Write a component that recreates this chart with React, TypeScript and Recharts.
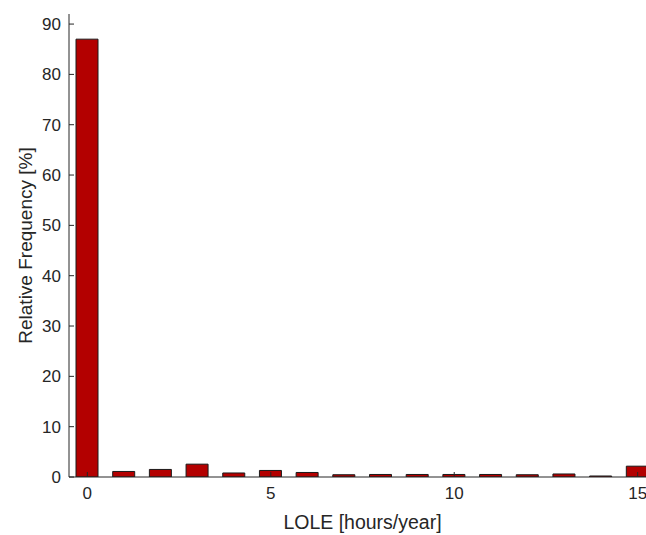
import React from 'react';
import { BarChart, Bar, XAxis, YAxis, Label } from 'recharts';

// LOLE bins (hours/year) and relative frequency (%)
const loleHours = [0, 1, 2, 3, 4, 5, 6, 7, 8, 9, 10, 11, 12, 13, 14, 15];
const relFreq = [87, 1.1, 1.5, 2.55, 0.8, 1.3, 0.9, 0.45, 0.5, 0.5, 0.5, 0.5, 0.45, 0.6, 0.2, 2.15];
const xTicks = [0, 5, 10, 15];
const yTicks = [0, 10, 20, 30, 40, 50, 60, 70, 80, 90];

const AXIS_COLOR = '#262626';
const BAR_COLOR = '#b30000';

const data = loleHours.map((h, i) => ({ lole: h, freq: relFreq[i] }));

const App: React.FC = () => {
    return (
        <div style={{ position: 'absolute', left: 0, top: 0, fontFamily: '"Liberation Sans", Arial, sans-serif' }}>
            <style>{'html, body { overflow: hidden; }'}</style>
            <BarChart
                width={700}
                height={535}
                data={data}
                margin={{ top: 14, right: 44, bottom: 0, left: 0 }}
                barCategoryGap={0}
            >
                <XAxis
                    dataKey="lole"
                    type="number"
                    domain={[-0.5, 15.5]}
                    allowDataOverflow
                    ticks={xTicks}
                    height={58}
                    stroke={AXIS_COLOR}
                    tickSize={-5}
                    tickMargin={15}
                    tick={{ fill: AXIS_COLOR, fontSize: 17 }}
                >
                    <Label value="LOLE [hours/year]" position="insideBottom" offset={6} fill={AXIS_COLOR} fontSize={19.5} />
                </XAxis>
                <XAxis
                    xAxisId="top"
                    orientation="top"
                    type="number"
                    domain={[-0.5, 15.5]}
                    allowDataOverflow
                    ticks={xTicks}
                    height={0}
                    stroke={AXIS_COLOR}
                    tickSize={-5}
                    tick={false}
                />
                <YAxis
                    type="number"
                    domain={[0, 92]}
                    allowDataOverflow
                    ticks={yTicks}
                    width={69}
                    stroke={AXIS_COLOR}
                    tickSize={-5}
                    tickMargin={13}
                    tick={{ fill: AXIS_COLOR, fontSize: 17 }}
                    label={{
                        value: 'Relative Frequency [%]',
                        angle: -90,
                        position: 'insideLeft',
                        offset: 25,
                        fill: AXIS_COLOR,
                        fontSize: 19,
                        style: { textAnchor: 'middle' },
                    }}
                />
                <Bar dataKey="freq" fill={BAR_COLOR} stroke="#1a1a1a" strokeWidth={1} barSize={22} isAnimationActive={false} />
            </BarChart>
        </div>
    );
};

export default App;
